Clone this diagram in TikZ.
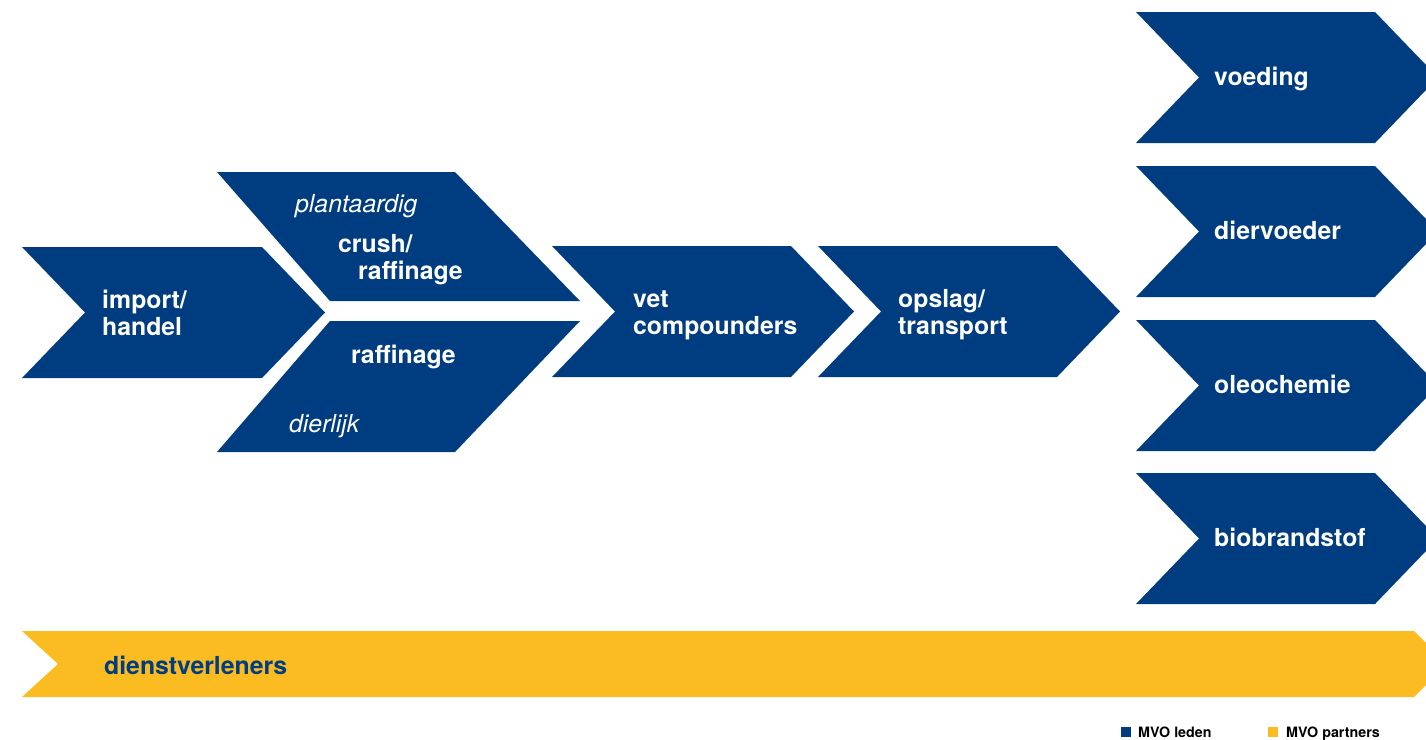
\documentclass[tikz,border=0pt]{standalone}
\usepackage{fontspec}
\setmainfont{TeX Gyre Heros}
\definecolor{mvoblue}{RGB}{0,61,128}
\definecolor{mvoyellow}{RGB}{251,188,34}
\begin{document}
\begin{tikzpicture}[x=1pt, y=-1pt, line join=miter,
  lbl/.style={text=white, font=\bfseries\fontsize{24.8}{27}\selectfont, anchor=west, inner sep=0pt, align=left},
  sub/.style={text=white, font=\itshape\fontsize{24.8}{27}\selectfont, anchor=base west, inner sep=0pt},
  leg/.style={font=\bfseries\fontsize{14.3}{16}\selectfont, anchor=base west, inner sep=0pt}]
\def\w{1426} \def\h{739}
\useasboundingbox (0,0) rectangle (\w,\h);
\begin{scope}
\clip (0,0) rectangle (\w,\h);
% keten
\fill[mvoblue] (22,247)--(262,247)--(325,312.5)--(262,378)--(22,378)--(85,312.5)--cycle;
\fill[mvoblue] (217,172)--(455,172)--(580,301)--(330,301)--cycle;
\fill[mvoblue] (330,321)--(580,321)--(455,452)--(217,452)--cycle;
\fill[mvoblue] (552,246)--(791,246)--(854,311.5)--(791,377)--(552,377)--(615,311.5)--cycle;
\fill[mvoblue] (818,246)--(1057,246)--(1120,311.5)--(1057,377)--(818,377)--(881,311.5)--cycle;
% afzetmarkten
\foreach \y in {12,166,320,473}
  \fill[mvoblue] (1136,\y)--(1375,\y)--(1438,\y+65.5)--(1375,\y+131)--(1136,\y+131)--(1199,\y+65.5)--cycle;
% dienstverleners
\fill[mvoyellow] (22,631)--(1414,631)--(1447,664)--(1414,697)--(22,697)--(58,664)--cycle;
\end{scope}
\node[lbl] (import) at (102,312.5) {import/\\handel};
\node[sub] (plant) at (295,212) {plantaardig};
\node[lbl] (crush) at (338,260) {crush/\\\hspace*{20pt}raffinage};
\node[lbl, anchor=base west] (raff) at (351,363.5) {raffinage};
\node[sub] (dier) at (289,432.5) {dierlijk};
\node[lbl] (vet) at (633,315) {vet\\compounders};
\node[lbl] (opslag) at (898,315) {opslag/\\transport};
\foreach \y/\t in {12/voeding,166/diervoeder,320/oleochemie,473/biobrandstof}
  \node[lbl, anchor=base west] (\t) at (1214,\y+73) {\t};
\node[lbl, anchor=base west, text=mvoblue] (dienst) at (104,674.5) {dienstverleners};
% legenda
\fill[mvoblue] (1121,727) rectangle (1131,737);
\node[leg] (leden) at (1138,737.5) {MVO leden};
\fill[mvoyellow] (1268,727) rectangle (1278,737);
\node[leg] (partners) at (1286,737.5) {MVO partners};
\end{tikzpicture}
\end{document}
